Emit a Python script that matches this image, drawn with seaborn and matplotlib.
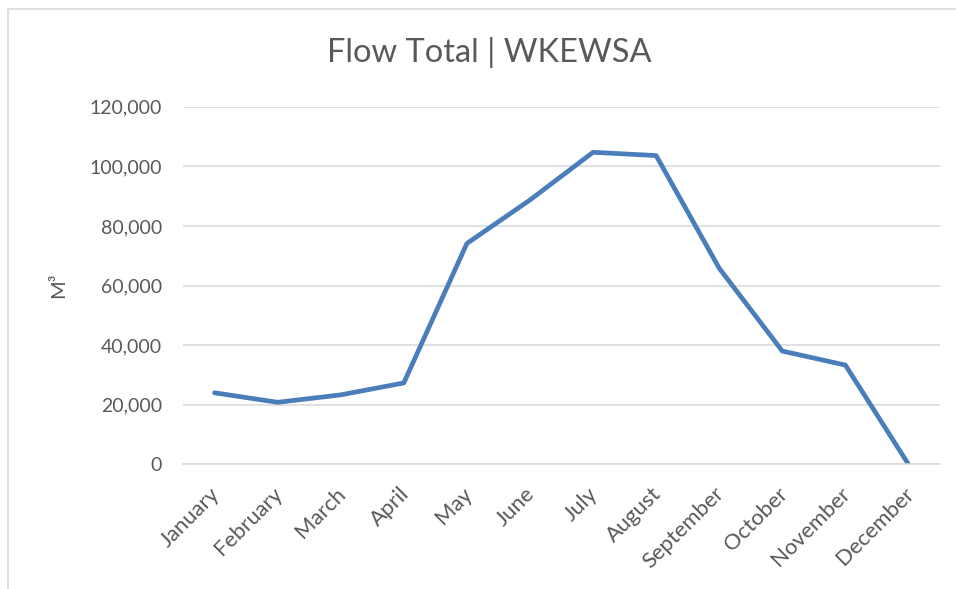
import numpy as np
import pandas as pd
import matplotlib
matplotlib.use('Agg')
import matplotlib.pyplot as plt
from matplotlib.patches import Rectangle
from matplotlib.ticker import FuncFormatter
from matplotlib.transforms import ScaledTranslation
import seaborn as sns


# Monthly flow totals
months = ['January', 'February', 'March', 'April', 'May', 'June',
          'July', 'August', 'September', 'October', 'November', 'December']
flow = [24000, 20800, 23300, 27300, 74100, 88700,
        104700, 103600, 65800, 38000, 33300, 0]
y_ticks = [0, 20000, 40000, 60000, 80000, 100000, 120000]

df = pd.DataFrame({'month': months, 'flow': flow})

sns.set_theme(style='white')
plt.rcParams['font.family'] = ['Lato', 'DejaVu Sans']
text_col = '#595959'

fig = plt.figure(figsize=(9.56, 5.89), dpi=100)
ax = fig.add_axes([183 / 956, 1 - 464.3 / 589,
                   (940 - 183) / 956, (464.3 - 106.7) / 589])

sns.lineplot(x='month', y='flow', data=df, sort=False, color='#4a7ebb',
             linewidth=3.4, ax=ax)

ax.set_xlim(-0.5, len(months) - 0.5)
ax.set_ylim(0, 120000)
ax.set_yticks(y_ticks)
ax.yaxis.set_major_formatter(FuncFormatter(lambda v, p: f'{v:,.0f}'))
ax.grid(axis='y', color='#d9d9d9', linewidth=1.1)
ax.set_axisbelow(True)
for s in ['top', 'right', 'left']:
    ax.spines[s].set_visible(False)
ax.spines['bottom'].set_color('#d9d9d9')
ax.spines['bottom'].set_linewidth(1.1)
ax.tick_params(axis='both', length=0, colors=text_col)
ax.tick_params(axis='y', pad=15, labelsize=14)
ax.tick_params(axis='x', pad=14, labelsize=15.8)
shift = ScaledTranslation(-5 / 100, 0, fig.dpi_scale_trans)
for lab in ax.get_xticklabels():
    lab.set_rotation(45)
    lab.set_ha('right')
    lab.set_va('top')
    lab.set_rotation_mode('anchor')
    lab.set_transform(lab.get_transform() + shift)
ax.set_xlabel('')
ax.set_ylabel('M³', color=text_col, fontsize=14.5, labelpad=16)

fig.text(489 / 956, 1 - 53 / 589, 'Flow Total | WKEWSA', color=text_col,
         fontsize=23.5, ha='center', va='center')

# light chart frame like the source
fig.patches.append(Rectangle((8 / 956, -0.1), 1.2, 1.1 - 8.5 / 589,
                             transform=fig.transFigure, fill=False,
                             edgecolor='#d9d9d9', linewidth=1.2))

fig.savefig('out.png', dpi=100)
